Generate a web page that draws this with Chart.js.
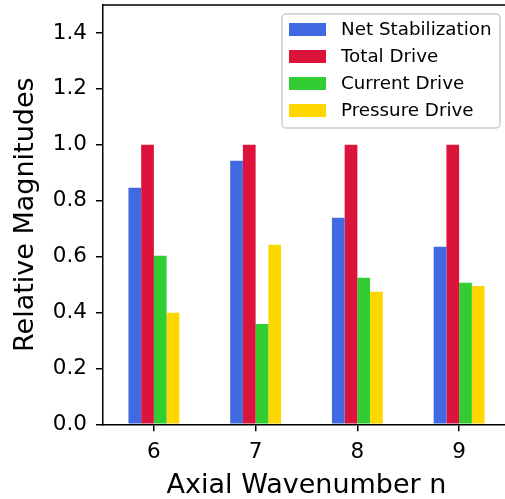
<!DOCTYPE html>
<html lang="en">
  <head>
    <meta charset="utf-8" />
    <title>Relative Magnitudes</title>
    <style>
      * {
        margin: 0;
        padding: 0;
      }
      body {
        background: white;
      }
      .chartBox {
        width: 505px;
        height: 499px;
        overflow: hidden;
      }
    </style>
  </head>
  <body>
    <div class="chartBox">
      <canvas id="myChart" width="510" height="499"></canvas>
    </div>

    <script src="https://cdn.jsdelivr.net/npm/chart.js"></script>

    <script>
      // data block
      const wavenumbers = ["6", "7", "8", "9"];
      const netStabilization = [0.846, 0.943, 0.739, 0.635];
      const totalDrive = [1.0, 1.0, 1.0, 1.0];
      const currentDrive = [0.603, 0.359, 0.524, 0.506];
      const pressureDrive = [0.399, 0.642, 0.474, 0.495];
      const yTicks = [0.0, 0.2, 0.4, 0.6, 0.8, 1.0, 1.2, 1.4];

      const data = {
        labels: wavenumbers,
        datasets: [
          { label: "Net Stabilization", data: netStabilization, backgroundColor: "#4169e1" },
          { label: "Total Drive", data: totalDrive, backgroundColor: "#dc143c" },
          { label: "Current Drive", data: currentDrive, backgroundColor: "#32cd32" },
          { label: "Pressure Drive", data: pressureDrive, backgroundColor: "#ffd700" },
        ],
      };

      // frame + legend plugin (matplotlib style)
      const mplFrame = {
        id: "mplFrame",
        afterDraw(chart) {
          const { ctx, chartArea } = chart;
          ctx.save();
          // top spine
          ctx.strokeStyle = "#000";
          ctx.lineWidth = 1.5;
          ctx.beginPath();
          ctx.moveTo(chartArea.left, chartArea.top);
          ctx.lineTo(chartArea.right, chartArea.top);
          ctx.stroke();

          // legend box
          const bx = 282, by = 14, bw = 218, bh = 114;
          ctx.fillStyle = "rgba(255,255,255,0.8)";
          ctx.strokeStyle = "#cccccc";
          ctx.lineWidth = 1.5;
          ctx.beginPath();
          ctx.roundRect(bx, by, bw, bh, 4);
          ctx.fill();
          ctx.stroke();

          ctx.font = "18.3px 'DejaVu Sans'";
          ctx.textAlign = "left";
          ctx.textBaseline = "middle";
          chart.data.datasets.forEach((ds, i) => {
            const cy = 29.5 + i * 27;
            ctx.fillStyle = ds.backgroundColor;
            ctx.fillRect(289, cy - 6.5, 37, 13);
            ctx.fillStyle = "#000";
            ctx.fillText(ds.label, 341, cy + 1);
          });
          ctx.restore();
        },
      };

      // config block
      const config = {
        type: "bar",
        data: data,
        options: {
          responsive: false,
          animation: false,
          devicePixelRatio: 1,
          layout: { padding: { top: 5, right: 0, bottom: 0, left: 0 } },
          datasets: {
            bar: { categoryPercentage: 0.5, barPercentage: 1.0, borderWidth: 0 },
          },
          plugins: {
            legend: { display: false },
            tooltip: { enabled: false },
          },
          scales: {
            x: {
              afterFit(scale) {
                scale.height = 74.7;
                scale.paddingLeft = 0;
                scale.paddingRight = 0;
              },
              grid: {
                offset: false,
                drawOnChartArea: false,
                drawTicks: true,
                tickLength: 7,
                color: "#000",
                lineWidth: 1.5,
              },
              border: { color: "#000", width: 1.5 },
              ticks: {
                color: "#000",
                padding: 8,
                font: { family: "DejaVu Sans", size: 21.5 },
              },
              title: {
                display: true,
                text: "Axial Wavenumber n",
                color: "#000",
                padding: { top: 0, bottom: 0 },
                font: { family: "DejaVu Sans", size: 27, lineHeight: 1 },
              },
            },
            y: {
              min: 0,
              max: 1.5,
              afterFit(scale) {
                scale.width = 103;
                scale.paddingTop = 0;
                scale.paddingBottom = 0;
              },
              afterBuildTicks(scale) {
                scale.ticks = yTicks.map((v) => ({ value: v }));
              },
              grid: {
                drawOnChartArea: false,
                drawTicks: true,
                tickLength: 7,
                color: "#000",
                lineWidth: 1.5,
              },
              border: { color: "#000", width: 1.5 },
              ticks: {
                color: "#000",
                padding: 9,
                font: { family: "DejaVu Sans", size: 21.5 },
                callback: (v) => Number(v).toFixed(1),
              },
              title: {
                display: true,
                text: "Relative Magnitudes",
                color: "#000",
                padding: { top: 12.5, bottom: 0 },
                font: { family: "DejaVu Sans", size: 27, lineHeight: 1 },
              },
            },
          },
        },
        plugins: [mplFrame],
      };

      // init render block
      const myChart = new Chart(document.getElementById("myChart"), config);
    </script>
  </body>
</html>
